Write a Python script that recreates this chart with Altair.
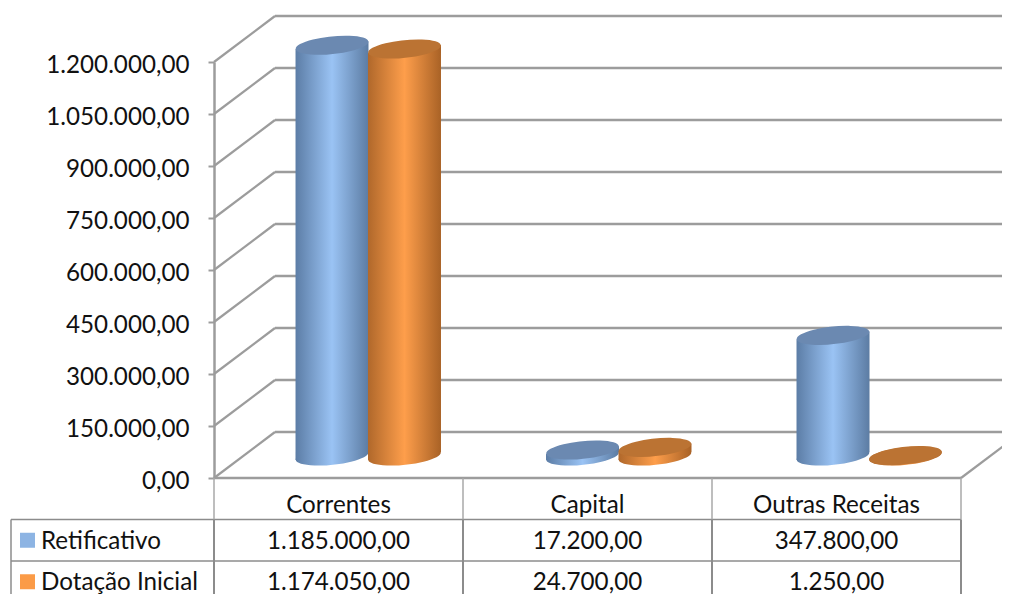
import altair as alt
import pandas as pd

CATEGORIES = ["Correntes", "Capital", "Outras Receitas"]
SERIES = ["Retificativo", "Dotação Inicial"]
RETIFICATIVO = [1185000, 17200, 347800]
DOTACAO = [1174050, 24700, 1250]
TICKS = [0, 150000, 300000, 450000, 600000, 750000, 900000, 1050000, 1200000]

FONT = "Lato"
FS = 24.2
GRID = "#9c9c9c"
TABLE = "#8c8c8c"
PX_PER_CAT = 249.0
PX_PER_VAL = 416.0 / 1200000
DEPTH_X = 61 / PX_PER_CAT
DEPTH_Y = 46 / PX_PER_VAL
FLOOR_Y = 22 / PX_PER_VAL
TILT = 3.9 / PX_PER_VAL
CYL_W = 73 / PX_PER_CAT
X_RIGHT = 796 / PX_PER_CAT
X_LEFT = -203 / PX_PER_CAT


def br(v):
    return f"{v:,.2f}".replace(",", "#").replace(".", ",").replace("#", ".")


def grad(a, b, c):
    return alt.Gradient(gradient="linear", x1=0, x2=1, y1=0, y2=0,
                        stops=[alt.GradientStop(color=a, offset=0),
                               alt.GradientStop(color=b, offset=0.5),
                               alt.GradientStop(color=c, offset=1)])


xs = alt.X("x:Q", scale=alt.Scale(domain=[0, 3], nice=False, zero=False), axis=None)
ys = alt.Y("y:Q", scale=alt.Scale(domain=[0, 1200000], nice=False, zero=False), axis=None)
y2 = alt.Y2("y2:Q")
x2 = alt.X2("x2:Q")

# ---- value axis
axis_src = pd.DataFrame({"y": TICKS, "x": 0.0})
axis = alt.Chart(axis_src).mark_rule(opacity=0).encode(
    x=xs,
    y=alt.Y("y:Q", scale=alt.Scale(domain=[0, 1200000], nice=False, zero=False),
            axis=alt.Axis(values=TICKS, title=None, grid=False,
                          labelExpr="replace(replace(replace(format(datum.value,',.2f'),/,/g,'#'),/[.]/g,','),/#/g,'.')",
                          labelFont=FONT, labelFontSize=FS, labelColor="#111111",
                          labelPadding=19, tickSize=6, tickColor=GRID, tickWidth=2,
                          domainColor=GRID, domainWidth=2.5, labelOverlap=False, labelOffset=3)),
)

# ---- walls and floor
back = pd.DataFrame({"x": DEPTH_X, "x2": X_RIGHT, "y": [t + DEPTH_Y for t in TICKS]})
wall = alt.Chart(back).mark_rule(color=GRID, strokeWidth=2.4).encode(x=xs, x2=x2, y=ys)

diag = pd.DataFrame({"x": 0.0, "x2": DEPTH_X, "y": TICKS,
                     "y2": [t + DEPTH_Y for t in TICKS]})
diags = alt.Chart(diag).mark_rule(color=GRID, strokeWidth=2.2).encode(x=xs, x2=x2, y=ys, y2=y2)

right_edge = pd.DataFrame({"x": [3.0], "x2": [X_RIGHT], "y": [0], "y2": [37 / PX_PER_VAL]})
right = alt.Chart(right_edge).mark_rule(color=GRID, strokeWidth=2.2).encode(x=xs, x2=x2, y=ys, y2=y2)

front = alt.Chart(pd.DataFrame({"x": [0.0], "x2": [3.0], "y": [0]})).mark_rule(
    color=GRID, strokeWidth=2.5).encode(x=xs, x2=x2, y=ys)

# ---- cylinders
ELLIPSE = "M-0.9945,0.1045A1,0.24,-6,1,1,0.9945,-0.1045A1,0.24,-6,1,1,-0.9945,0.1045Z"
ELL_SIZE = 73 ** 2
styles = [
    (RETIFICATIVO, 0.474, grad("#5c7da6", "#9ac3f4", "#5c7ca3"), "#6b89b1"),
    (DOTACAO, 0.765, grad("#b0682b", "#fe9e4b", "#a96226"), "#bb7333"),
]
cyl_layers = []
for vals, off, g, top in styles:
    rows, tops = [], []
    for i, (c, v) in enumerate(zip(CATEGORIES, vals)):
        cx = off + i * 1.006
        for sign in (-1, 1):
            rows.append({"cat": c, "x": cx + sign * CYL_W / 2,
                         "y": v + FLOOR_Y + sign * TILT, "y2": FLOOR_Y + sign * TILT})
        tops.append({"cat": c, "x": cx, "y": v + FLOOR_Y, "base": FLOOR_Y})
    r = pd.DataFrame(rows)
    t = pd.DataFrame(tops)
    cyl_layers.append(alt.Chart(r).mark_area(fill=g, opacity=1, line=False).encode(
        x=xs, y=ys, y2=y2, detail="cat:N"))
    cyl_layers.append(alt.Chart(t).mark_point(shape=ELLIPSE, size=ELL_SIZE, filled=True, fill=g,
                                              opacity=1, strokeWidth=0).encode(
        x=xs, y=alt.Y("base:Q", scale=alt.Scale(domain=[0, 1200000], nice=False, zero=False), axis=None)))
    cyl_layers.append(alt.Chart(t).mark_point(shape=ELLIPSE, size=ELL_SIZE, filled=True, fill=top,
                                              opacity=1, strokeWidth=0).encode(x=xs, y=ys))

plot = alt.layer(wall, diags, right, *cyl_layers, front)

# ---- data table
ry = alt.Y("r:Q", scale=alt.Scale(domain=[0, 3], range=[416, 540.5], nice=False, zero=False), axis=None)
ry2 = alt.Y2("r2:Q")

hlines = pd.DataFrame({"x": X_LEFT, "x2": 3.0, "r": [1, 2]})
h = alt.Chart(hlines).mark_rule(color=TABLE, strokeWidth=1.5).encode(x=xs, x2=x2, y=ry)
v_head = pd.DataFrame({"x": [0.0, 1.0, 2.0, 3.0], "r": 0, "r2": 1})
vh = alt.Chart(v_head).mark_rule(color="#a8a8a8", strokeWidth=1.5).encode(x=xs, y=ry, y2=ry2)
v_body = pd.DataFrame({"x": [0.0, 1.0, 2.0, 3.0], "r": 1, "r2": 3})
vb = alt.Chart(v_body).mark_rule(color=TABLE, strokeWidth=2).encode(x=xs, y=ry, y2=ry2)
v_left = pd.DataFrame({"x": [X_LEFT], "r": [1], "r2": [3]})
vl = alt.Chart(v_left).mark_rule(color=TABLE, strokeWidth=1.5).encode(x=xs, y=ry, y2=ry2)

cells = [{"x": i + 0.5, "r": 0.67, "t": c} for i, c in enumerate(CATEGORIES)]
for ri, vals in enumerate([RETIFICATIVO, DOTACAO]):
    cells += [{"x": i + 0.5, "r": ri + 1.54, "t": br(v)} for i, v in enumerate(vals)]
cell_text = alt.Chart(pd.DataFrame(cells)).mark_text(
    font=FONT, fontSize=FS, color="#111111", align="center", baseline="middle").encode(
    x=xs, y=ry, text="t:N")

names = pd.DataFrame({"x": -173 / PX_PER_CAT, "r": [1.54, 2.54], "t": SERIES})
name_text = alt.Chart(names).mark_text(
    font=FONT, fontSize=FS, color="#111111", align="left", baseline="middle").encode(
    x=xs, y=ry, text="t:N")
swatch = pd.DataFrame({"x": -186.5 / PX_PER_CAT, "r": [1.5, 2.5], "s": SERIES})
swatches = alt.Chart(swatch).mark_point(shape="square", size=225, filled=True, opacity=1,
                                        strokeWidth=0).encode(
    x=xs, y=ry,
    color=alt.Color("s:N", scale=alt.Scale(domain=SERIES, range=["#8db4e3", "#fb9b47"]), legend=None))

table = alt.layer(h, vh, vb, vl, cell_text, name_text, swatches)

chart = alt.layer(axis, plot, table).resolve_scale(y="independent").properties(
    width=747, height=416, background="white",
    padding={"left": 206, "top": 54, "right": 41, "bottom": 116},
    autosize=alt.AutoSizeParams(type="none"),
).configure_view(stroke="transparent", strokeWidth=0)

chart.save("out.html", embed_options={"renderer": "svg", "actions": False})
